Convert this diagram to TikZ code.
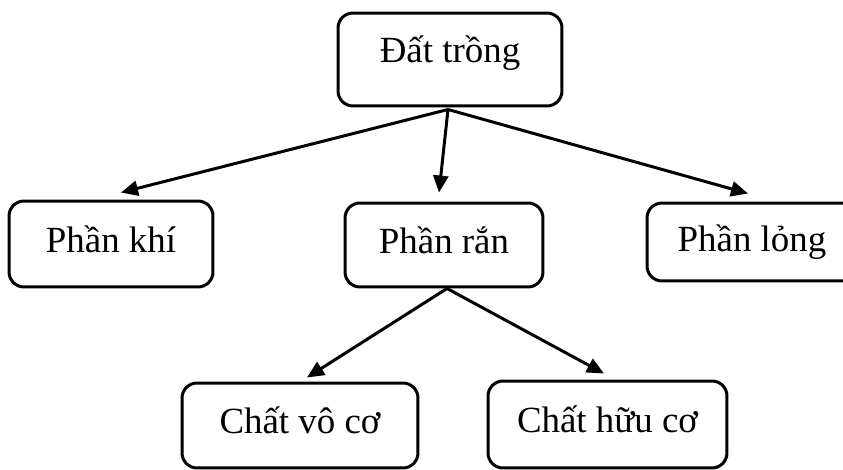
\documentclass[tikz,border=0pt]{standalone}
\usepackage{fontspec}
\setmainfont{Liberation Serif}
\usetikzlibrary{arrows.meta,calc}

\tikzset{
  box/.style={draw, line width=0.06cm, rounded corners=0.3cm,
    font=\fontsize{21}{25}\selectfont, text height=0.5cm, text depth=0.18cm},
  arr/.style={line width=0.06cm, -{Triangle[length=0.34cm,width=0.3cm]}}
}

\begin{document}
\begin{tikzpicture}[x=0.02cm,y=-0.02cm]
		\clip (0,0) rectangle (843,470);
		% boxes
		\node[box, minimum width=4.48cm, minimum height=1.86cm, text depth=0.4cm] (dat) at (450,59.5) {Đất trồng};
		\node[box, minimum width=4.08cm, minimum height=1.72cm] (khi) at (111,244) {Phần khí};
		\node[box, minimum width=3.96cm, minimum height=1.68cm] (ran) at (444,245) {Phần rắn};
		\node[box, minimum width=4.2cm, minimum height=1.56cm, text depth=0.1cm] (long) at (752,242) {Phần lỏng};
		\node[box, minimum width=4.72cm, minimum height=1.7cm] (voco) at (300,425.5) {Chất vô cơ};
		\node[box, minimum width=4.78cm, minimum height=1.74cm] (huuco) at (607.5,424.5) {Chất hữu cơ};
		
		% arrows
		\draw[arr] ($(dat.south)+(-2,2)$) -- ($(khi.north)+(10,-7)$);
		\draw[arr] ($(dat.south)+(-2,2)$) -- ($(ran.north)+(-5,-9)$);
		\draw[arr] ($(dat.south)+(-2,2)$) -- ($(long.north)+(-4,-8)$);
		\draw[arr] ($(ran.south)+(3,0)$) -- ($(voco.north)+(7,-4)$);
		\draw[arr] ($(ran.south)+(3,0)$) -- ($(huuco.north)+(-3.5,-6)$);
\end{tikzpicture}
\end{document}
